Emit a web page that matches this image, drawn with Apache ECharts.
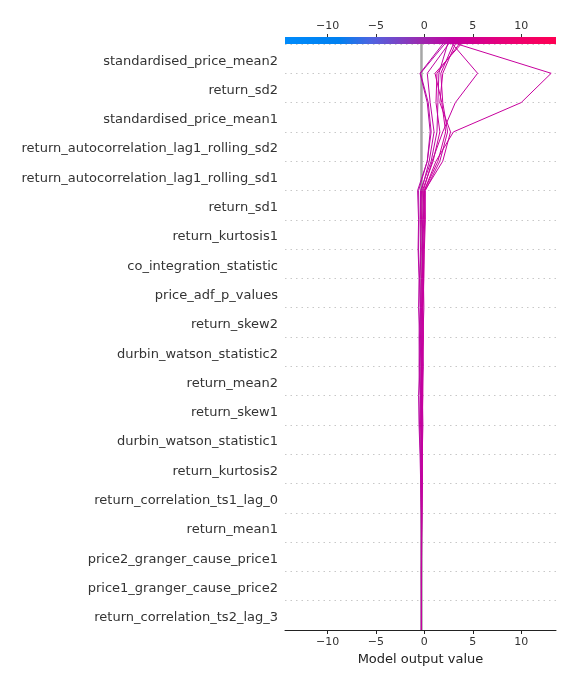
<!DOCTYPE html>
<html>
<head>
<meta charset="utf-8">
<script src="https://cdn.jsdelivr.net/npm/echarts@6/dist/echarts.min.js"></script>
<style>
html,body{margin:0;padding:0;background:#fff;}
#chart{width:576px;height:684px;}
</style>
</head>
<body>
<div id="chart"></div>
<script>
// Features from top to bottom
const features = [
  "standardised_price_mean2","return_sd2","standardised_price_mean1",
  "return_autocorrelation_lag1_rolling_sd2","return_autocorrelation_lag1_rolling_sd1",
  "return_sd1","return_kurtosis1","co_integration_statistic","price_adf_p_values",
  "return_skew2","durbin_watson_statistic2","return_mean2","return_skew1",
  "durbin_watson_statistic1","return_kurtosis2","return_correlation_ts1_lag_0",
  "return_mean1","price2_granger_cause_price1","price1_granger_cause_price2",
  "return_correlation_ts2_lag_3"
];
const xTicks = [-10, -5, 0, 5, 10];
const xMin = -14.4, xMax = 13.6;
const baseValue = -0.3;

// Cumulative model output at each level, from bottom (base) to top (prediction)
const line01 = [-0.30,-0.30,-0.30,-0.29,-0.28,-0.30,-0.32,-0.30,-0.35,-0.25,-0.28,-0.20,-0.15,-0.25,-0.10, 0.00, 1.20, 3.00,10.00,13.10, 3.40];
const line02 = [-0.30,-0.30,-0.31,-0.30,-0.27,-0.25,-0.28,-0.22,-0.30,-0.20,-0.15,-0.18,-0.10,-0.20,-0.05,-0.10, 0.80, 1.90, 3.20, 5.50, 2.90];
const line03 = [-0.30,-0.30,-0.30,-0.31,-0.33,-0.38,-0.45,-0.55,-0.60,-0.50,-0.55,-0.45,-0.50,-0.60,-0.55,-0.60, 0.30, 0.60, 0.30,-0.45, 1.90];
const line04 = [-0.30,-0.30,-0.30,-0.30,-0.32,-0.35,-0.40,-0.50,-0.45,-0.55,-0.50,-0.60,-0.55,-0.65,-0.60,-0.70, 0.30, 0.70, 0.40,-0.40, 2.10];
const line05 = [-0.30,-0.30,-0.29,-0.28,-0.25,-0.20,-0.22,-0.15,-0.20,-0.10,-0.15,-0.05,-0.10,-0.15,-0.20,-0.30, 0.50, 1.00, 0.60, 0.30, 2.50];
const line06 = [-0.30,-0.30,-0.30,-0.29,-0.30,-0.33,-0.30,-0.40,-0.35,-0.30,-0.40,-0.35,-0.30,-0.40,-0.30,-0.20, 0.90, 1.60, 1.20, 1.30, 3.60];
const line07 = [-0.30,-0.30,-0.30,-0.30,-0.28,-0.30,-0.25,-0.30,-0.20,-0.25,-0.15,-0.20,-0.10,-0.05, 0.00, 0.00, 1.40, 2.20, 1.80, 1.10, 3.80];
const line08 = [-0.30,-0.30,-0.31,-0.30,-0.29,-0.27,-0.30,-0.25,-0.30,-0.35,-0.25,-0.30,-0.20,-0.10, 0.05, 0.10, 1.60, 2.40, 1.90, 1.70, 3.00];
const line09 = [-0.30,-0.30,-0.30,-0.31,-0.30,-0.32,-0.35,-0.30,-0.40,-0.45,-0.35,-0.40,-0.45,-0.35,-0.40,-0.40, 0.70, 1.30, 1.40, 1.50, 2.40];
const line10 = [-0.30,-0.30,-0.30,-0.29,-0.27,-0.25,-0.20,-0.25,-0.15,-0.20,-0.10,-0.15,-0.05, 0.00, 0.10, 0.05, 1.90, 2.70, 1.60, 1.90, 3.20];
const lines = [line01,line02,line03,line04,line05,line06,line07,line08,line09,line10];

const cmapStops = [
  [0.00,[0,139,251]],[0.20,[0,128,240]],[0.32,[80,99,224]],
  [0.50,[155,42,176]],[0.62,[196,0,160]],[0.80,[230,0,122]],[1.00,[255,0,82]]
];
function cmap(t){
  t=Math.max(0,Math.min(1,t));
  for(let i=1;i<cmapStops.length;i++){
    if(t<=cmapStops[i][0]){
      const a=cmapStops[i-1],b=cmapStops[i];
      const f=(t-a[0])/(b[0]-a[0]);
      const c=a[1].map((v,k)=>Math.round(v+(b[1][k]-v)*f));
      return 'rgb('+c.join(',')+')';
    }
  }
  return 'rgb(255,0,82)';
}

const nLev = features.length;
const catsBottomUp = features.slice().reverse();
const FONT = 'DejaVu Sans';

const chart = echarts.init(document.getElementById('chart'), null, {renderer:'canvas'});
const series = [{
  type:'line', xAxisIndex:0, yAxisIndex:0, silent:true, symbol:'none', z:1,
  data:[[baseValue,0],[baseValue,nLev]],
  lineStyle:{color:'#a6a6a6', width:2.5}
}];
lines.forEach(arr=>{
  const col = cmap((arr[arr.length-1]-xMin)/(xMax-xMin));
  series.push({
    type:'line', xAxisIndex:0, yAxisIndex:0, silent:true, symbol:'none', z:3,
    data: arr.map((v,i)=>[v,i]),
    lineStyle:{color:col, width:1}
  });
});

chart.setOption({
  animation:false,
  grid:{left:285, right:20, top:44, bottom:54},
  xAxis:[{
    type:'value', min:xMin, max:xMax, position:'bottom',
    axisLine:{show:true, lineStyle:{color:'#222', width:1}},
    axisTick:{show:true, length:4, customValues:xTicks, lineStyle:{color:'#222'}},
    axisLabel:{customValues:xTicks, color:'#333', fontSize:11, fontFamily:FONT, margin:7,
      formatter:v=> (v<0?'\u2212'+Math.abs(v):String(v))},
    splitLine:{show:false},
    name:'Model output value', nameLocation:'middle', nameGap:21,
    nameTextStyle:{color:'#222', fontSize:13, fontFamily:FONT}
  },{
    type:'value', min:xMin, max:xMax, position:'top', offset:7,
    axisLine:{show:false},
    axisTick:{show:true, length:3, customValues:xTicks, lineStyle:{color:'#333'}},
    axisLabel:{customValues:xTicks, color:'#333', fontSize:11, fontFamily:FONT, margin:5,
      formatter:v=> (v<0?'\u2212'+Math.abs(v):String(v))},
    splitLine:{show:false}
  }],
  yAxis:[{
    type:'value', min:0, max:nLev, interval:1,
    axisLine:{show:false}, axisTick:{show:false}, axisLabel:{show:false},
    splitLine:{show:true, lineStyle:{color:'#c8c8c8', type:[1.5,4], width:1}}
  },{
    type:'category', data:catsBottomUp, position:'left', boundaryGap:true,
    axisLine:{show:false}, axisTick:{show:false},
    axisLabel:{margin:7, formatter:v=>'{a|'+v+'}',
      rich:{a:{color:'#333', fontSize:13, fontFamily:FONT, padding:[5,0,0,0]}}},
    splitLine:{show:false}
  }],
  series:series
});

// colour bar along the top axis
const x0 = chart.convertToPixel({xAxisIndex:0}, xMin);
const x1 = chart.convertToPixel({xAxisIndex:0}, xMax);
const yTop = chart.convertToPixel({yAxisIndex:0}, nLev);
chart.setOption({
  graphic:[{
    type:'rect', z:100, silent:true,
    shape:{x:x0, y:yTop-7, width:x1-x0, height:7},
    style:{fill:new echarts.graphic.LinearGradient(0,0,1,0,
      cmapStops.map(s=>({offset:s[0], color:'rgb('+s[1].join(',')+')'})))}
  }]
});
</script>
</body>
</html>
